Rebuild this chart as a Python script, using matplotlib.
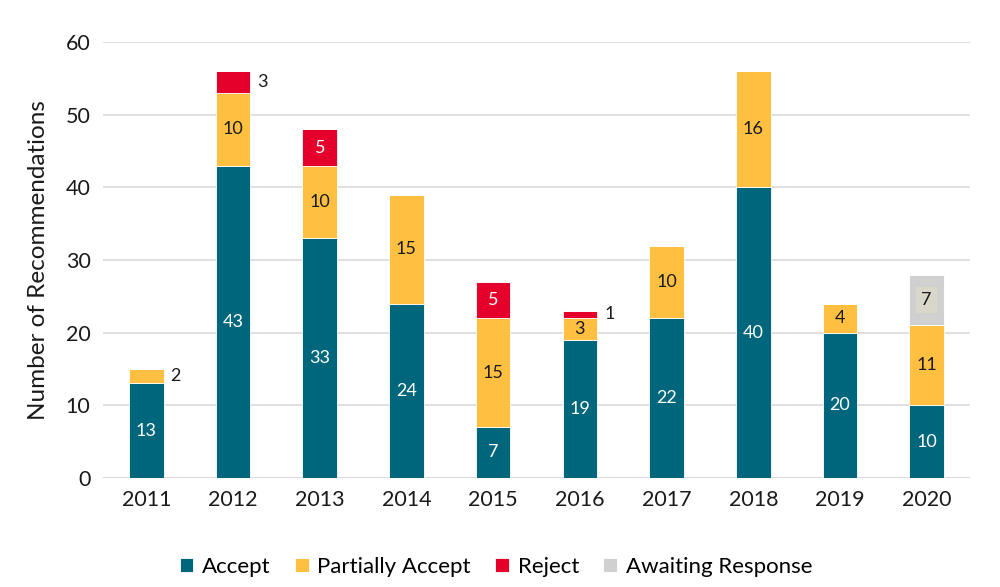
import numpy as np
import matplotlib.pyplot as plt

plt.rcParams['font.family'] = ['Lato', 'DejaVu Sans']

years = ['2011', '2012', '2013', '2014', '2015', '2016', '2017', '2018', '2019', '2020']
accept = [13, 43, 33, 24, 7, 19, 22, 40, 20, 10]
partial = [2, 10, 10, 15, 15, 3, 10, 16, 4, 11]
reject = [0, 3, 5, 0, 5, 1, 0, 0, 0, 0]
awaiting = [0, 0, 0, 0, 0, 0, 0, 0, 0, 7]

series = [
    ('Accept', accept, '#00667C', 'white'),
    ('Partially Accept', partial, '#FFBF40', '#1a1a1a'),
    ('Reject', reject, '#E4002B', 'white'),
    ('Awaiting Response', awaiting, '#D0D0D0', '#1a1a1a'),
]

fig = plt.figure(figsize=(10, 5.87), dpi=100)
ax = fig.add_axes([0.103, 0.186, 0.867, 0.742])
x = np.arange(len(years))
w = 0.4
bottom = np.zeros(len(years))
for name, vals, col, tcol in series:
    vals = np.array(vals, dtype=float)
    ax.bar(x, vals, w, bottom=bottom, color=col, edgecolor='white', linewidth=0.6,
           label=name, zorder=3)
    for i, v in enumerate(vals):
        if v == 0:
            continue
        yc = bottom[i] + v / 2
        if v <= 3 and name != 'Partially Accept' or (v <= 2):
            ax.text(x[i] + w / 2 + 0.08, yc, f'{int(v)}', ha='left', va='center',
                    fontsize=13, color='#1a1a1a', zorder=4)
        elif name == 'Awaiting Response':
            ax.text(x[i], yc, f'{int(v)}', ha='center', va='center', fontsize=13,
                    color=tcol, zorder=4,
                    bbox=dict(boxstyle='square,pad=0.3', fc='#D9D7C9', ec='none'))
        else:
            ax.text(x[i], yc, f'{int(v)}', ha='center', va='center', fontsize=13,
                    color=tcol, zorder=4)
    bottom += vals

ax.set_ylim(0, 60)
ax.set_yticks(range(0, 61, 10))
ax.set_xlim(-0.5, len(years) - 0.5)
ax.set_xticks(x)
ax.set_xticklabels(years)
ax.tick_params(axis='both', length=0, labelsize=15.5, colors='#1a1a1a', pad=9)
ax.yaxis.grid(True, color='#D9D9D9', linewidth=1.2, zorder=0)
ax.set_axisbelow(True)
for s in ['top', 'right', 'left', 'bottom']:
    ax.spines[s].set_visible(False)
ax.axhline(0, color='#D9D9D9', linewidth=1.2, zorder=1)
ax.set_ylabel('Number of Recommendations', fontsize=17.5, color='#1a1a1a', labelpad=12)

handles, labels = ax.get_legend_handles_labels()
fig.legend(handles, labels, loc='upper center', bbox_to_anchor=(0.496, 0.086), ncol=4,
           frameon=False, fontsize=16, handlelength=0.6, handleheight=0.6,
           handletextpad=0.4, columnspacing=1.1)

fig.savefig('out.png', dpi=100)
